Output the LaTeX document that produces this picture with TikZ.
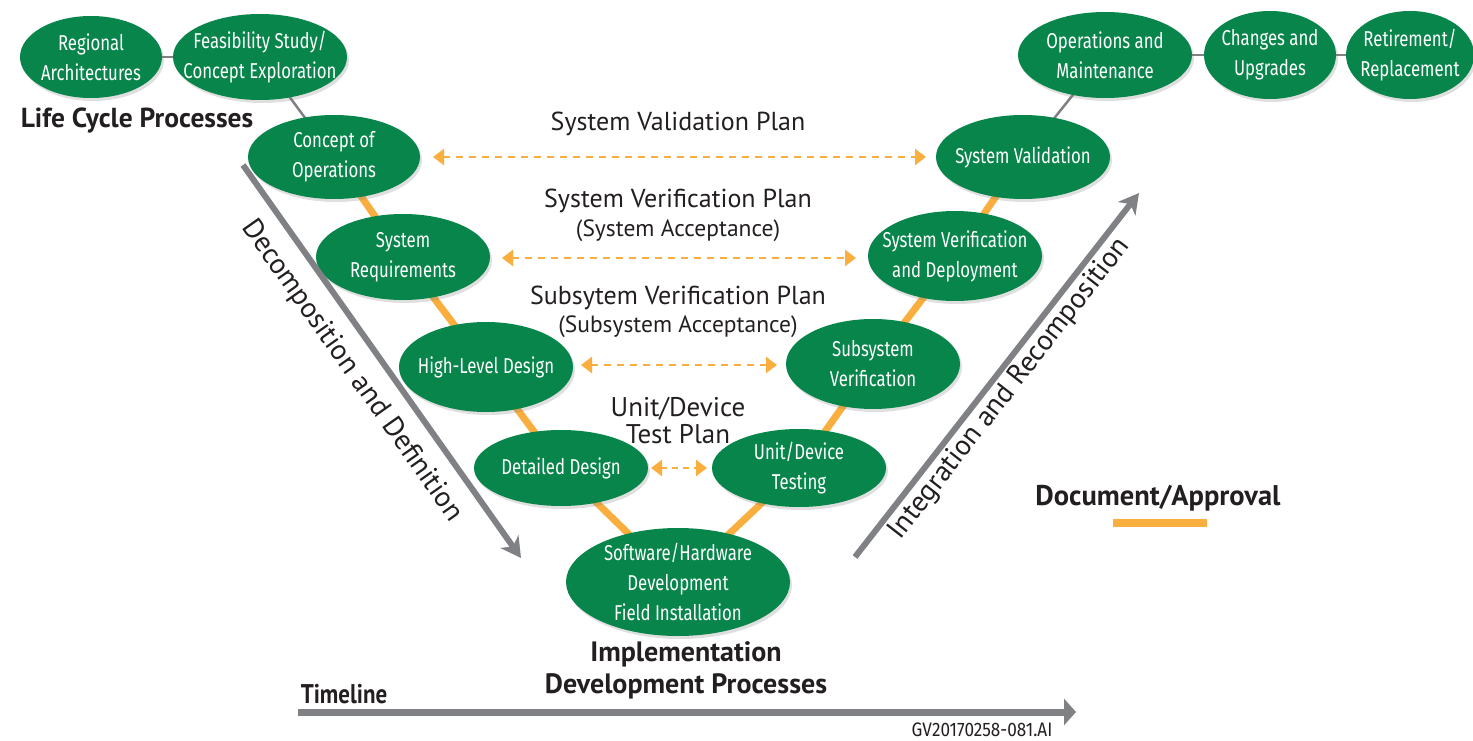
\documentclass[tikz,border=0pt]{standalone}
\usepackage{fontspec}
\setmainfont{PT Sans}
\newfontfamily\condfont[FakeStretch=0.78]{Fira Sans}
\newfontfamily\gvfont[FakeStretch=0.88]{Fira Sans}
\newfontfamily\condbold[FakeStretch=0.85]{PT Sans Bold}
\usetikzlibrary{shapes.geometric,arrows.meta,backgrounds,shadows}
\definecolor{vgreen}{HTML}{07854A}
\definecolor{vorange}{HTML}{F9AE3E}
\definecolor{vgray}{HTML}{7F8184}
\definecolor{vtext}{HTML}{231F20}
\tikzset{
  phase/.style={ellipse, fill=vgreen, inner sep=0pt,
    drop shadow={opacity=0.25, shadow xshift=2pt, shadow yshift=-3pt}},
  ptext/.style={text=white, inner sep=0pt, align=center,
    font=\condfont\fontsize{21.5}{30}\selectfont},
  grayline/.style={draw=vgray, line width=2.5pt},
  vline/.style={draw=vorange, line width=7pt},
  plan/.style={draw=vorange, line width=2.6pt, dash pattern=on 7pt off 6pt,
    {Triangle[width=16pt,length=11pt]}-{Triangle[width=16pt,length=11pt]}},
  bigarrow/.style={draw=vgray, line width=6pt, -{Stealth[length=20pt,width=22pt,inset=6pt]}},
  plantext/.style={text=vtext, font=\fontsize{26}{28}\selectfont},
  plansub/.style={text=vtext, font=\fontsize{23.5}{26}\selectfont},
  boldlabel/.style={text=vtext, font=\bfseries\fontsize{27.5}{32}\selectfont, align=center},
  difftext/.style={text=vtext, font=\fontsize{28.5}{30}\selectfont}
}
\begin{document}
\begin{tikzpicture}[x=1pt,y=-1pt]
\useasboundingbox (0,0) rectangle (1473,741);
% ellipses
\node[phase, minimum width=142pt, minimum height=82pt, label={[ptext]center:{Regional\\Architectures}}] (ra) at (91,57) {};
\node[phase, minimum width=174pt, minimum height=86pt, label={[ptext]center:{Feasibility Study/\\Concept Exploration}}] (fs) at (260,57) {};
\node[phase, minimum width=172pt, minimum height=84pt, label={[ptext]center:{Concept of\\Operations}}] (co) at (334,157) {};
\node[phase, minimum width=174pt, minimum height=86pt, label={[ptext]center:{System\\Requirements}}] (sr) at (403,257) {};
\node[phase, minimum width=174pt, minimum height=90pt, label={[ptext]center:{High-Level Design}}] (hl) at (486,367) {};
\node[phase, minimum width=174pt, minimum height=76pt, label={[ptext]center:{Detailed Design}}] (dd) at (561,468) {};
\node[phase, minimum width=224pt, minimum height=108pt, label={[ptext]center:{Software/Hardware\\Development\\Field Installation}}] (sw) at (678,582) {};
\node[phase, minimum width=174pt, minimum height=78pt, label={[ptext]center:{Unit/Device\\Testing}}] (ut) at (799,468) {};
\node[phase, minimum width=174pt, minimum height=90pt, label={[ptext]center:{Subsystem\\Verification}}] (sv) at (873,364) {};
\node[phase, minimum width=174pt, minimum height=90pt, label={[ptext]center:{System Verification\\and Deployment}}] (vd) at (955,256) {};
\node[phase, minimum width=174pt, minimum height=84pt, label={[ptext]center:{System Validation}}] (sval) at (1023,157) {};
\node[phase, minimum width=174pt, minimum height=86pt, label={[ptext]center:{Operations and\\Maintenance}}] (om) at (1105,55) {};
\node[phase, minimum width=132pt, minimum height=88pt, label={[ptext]center:{Changes and\\Upgrades}}] (cu) at (1270,55) {};
\node[phase, minimum width=128pt, minimum height=88pt, label={[ptext]center:{Retirement/\\Replacement}}] (rr) at (1410,55) {};
% connectors behind
\begin{scope}[on background layer]
\draw[grayline] (ra.center) -- (fs.center);
\draw[grayline] (fs.center) -- (co.center);
\draw[grayline] (om.center) -- (sval.center);
\draw[grayline] (om.center) -- (cu.center);
\draw[grayline] (cu.center) -- (rr.center);
\draw[vline] (co.center) -- (sr.center);
\draw[vline] (sr.center) -- (hl.center);
\draw[vline] (hl.center) -- (dd.center);
\draw[vline] (dd.center) -- (sw.center);
\draw[vline] (sw.center) -- (ut.center);
\draw[vline] (ut.center) -- (sv.center);
\draw[vline] (sv.center) -- (vd.center);
\draw[vline] (vd.center) -- (sval.center);
\end{scope}
% plan arrows
\coordinate (p1a) at (433,157); \coordinate (p1b) at (926,157);
\coordinate (p2a) at (502,258); \coordinate (p2b) at (856,258);
\coordinate (p3a) at (581,365); \coordinate (p3b) at (777,365);
\coordinate (p4a) at (651,468); \coordinate (p4b) at (707,468);
\draw[plan] (p1a) -- (p1b);
\draw[plan] (p2a) -- (p2b);
\draw[plan] (p3a) -- (p3b);
\draw[plan, dash pattern=on 6pt off 5pt] (p4a) -- (p4b);
\node[plantext] (t1) at (678,124) {System Validation Plan};
\node[plantext] (t2) at (678,201) {System Verification Plan};
\node[plansub] (t2s) at (678,231) {(System Acceptance)};
\node[plantext] (t3) at (678,298) {Subsytem Verification Plan};
\node[plansub] (t3s) at (678,327) {(Subsystem Acceptance)};
\node[plantext, align=center, font=\fontsize{27}{27}\selectfont] (t4) at (678,421) {Unit/Device\\Test Plan};
% big diagonal arrows
\coordinate (d1) at (243,165); \coordinate (d2) at (521,558);
\draw[bigarrow] (d1) -- (d2);
\node[difftext, rotate=-54.8] (dtext) at (352,371) {Decomposition and Definition};
\coordinate (i1) at (855,557); \coordinate (i2) at (1139,193);
\draw[bigarrow] (i1) -- (i2);
\node[difftext, rotate=52.1] (itext) at (1010,389) {Integration and Recomposition};
% labels
\node[boldlabel] (lcp) at (137,121) {Life Cycle Processes};
\node[boldlabel, font=\bfseries\fontsize{28}{32}\selectfont] (impl) at (686,670) {Implementation\\Development Processes};
\node[boldlabel, font=\bfseries\fontsize{28.5}{32}\selectfont] (doc) at (1158,498) {Document/Approval};
\coordinate (da) at (1113,523); \coordinate (db) at (1207,523);
\draw[draw=vorange, line width=8pt] (da) -- (db);
% timeline
\coordinate (tl1) at (298,712); \coordinate (tl2) at (1076,712);
\draw[draw=vgray, line width=7pt, -{Triangle[length=12pt,width=26pt]}] (tl1) -- (tl2);
\node[text=vtext, font=\condbold\fontsize{27}{30}\selectfont] (tl) at (344,694) {Timeline};
\node[text=vtext, font=\gvfont\fontsize{19.5}{22}\selectfont] (gv) at (982,730) {GV20170258-081.AI};
\end{tikzpicture}
\end{document}
